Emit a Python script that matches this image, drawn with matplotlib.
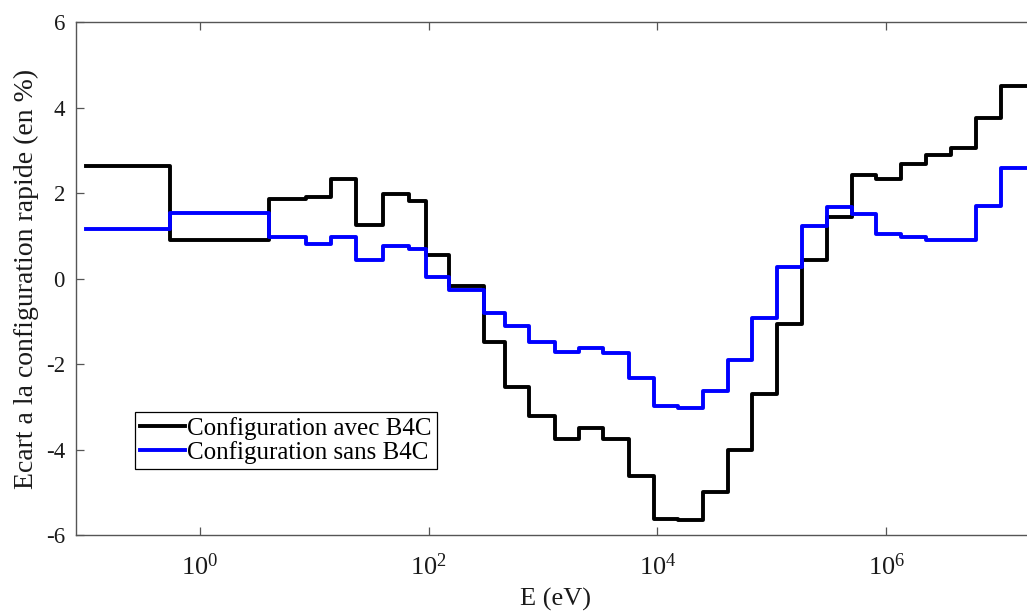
import math

import matplotlib
matplotlib.use("Agg")
import matplotlib.pyplot as plt
from matplotlib.ticker import FixedLocator, FuncFormatter, NullLocator

plt.rcParams["font.family"] = ["Liberation Serif", "DejaVu Serif"]
plt.rcParams["mathtext.fontset"] = "custom"
plt.rcParams["mathtext.rm"] = "Liberation Serif"
plt.rcParams["mathtext.it"] = "Liberation Serif:italic"
plt.rcParams["axes.unicode_minus"] = False

# ── Data: energy group boundaries (eV) and relative deviation (%) ──
edges_ev = [0.1, 0.55, 4.0, 8.5, 14, 23, 40, 67, 95, 150, 307, 463, 760,
            1270, 2070, 3350, 5600, 9300, 15200, 25000, 41600, 67600,
            111000, 185000, 304000, 502000, 820000, 1.34e6, 2.22e6,
            3.67e6, 6.07e6, 1.0e7, 2.0e7]

avec_b4c = [2.63, 0.89, 1.86, 1.90, 2.32, 1.26, 1.98, 1.82, 0.56, -0.17,
            -1.49, -2.54, -3.22, -3.75, -3.49, -3.75, -4.61, -5.62, -5.66,
            -5.00, -4.00, -2.70, -1.07, 0.44, 1.45, 2.43, 2.33, 2.67, 2.90,
            3.06, 3.76, 4.50]

sans_b4c = [1.15, 1.53, 0.97, 0.81, 0.97, 0.44, 0.76, 0.68, 0.03, -0.28,
            -0.80, -1.12, -1.49, -1.72, -1.63, -1.74, -2.33, -2.99, -3.03,
            -2.64, -1.90, -0.93, 0.28, 1.24, 1.68, 1.51, 1.04, 0.98, 0.91,
            0.91, 1.69, 2.59]

labels = ["Configuration avec B4C", "Configuration sans B4C"]
x_ticks = [1, 1e2, 1e4, 1e6]
y_ticks = [-6, -4, -2, 0, 2, 4, 6]

fig = plt.figure(figsize=(10.27, 6.13), dpi=100)
fig.patch.set_facecolor("white")
ax = fig.add_axes([0.074, 0.1272, 0.9338, 0.8369])

ax.step(edges_ev, avec_b4c + [avec_b4c[-1]], where="post",
        color="black", linewidth=2.8, label=labels[0])
ax.step(edges_ev, sans_b4c + [sans_b4c[-1]], where="post",
        color="#0000FF", linewidth=2.8, label=labels[1])

ax.set_xscale("log")
ax.set_xlim(0.0824, 2.0e7)
ax.set_ylim(-6, 6)

ax.xaxis.set_major_locator(FixedLocator(x_ticks))
ax.xaxis.set_minor_locator(NullLocator())
ax.xaxis.set_major_formatter(
    FuncFormatter(lambda v, _: r"$\mathregular{10^{%d}}$" % round(math.log10(v))))
ax.set_yticks(y_ticks)
ax.set_yticklabels([str(t) for t in y_ticks])

ax.tick_params(direction="in", length=6, width=0.9, top=True, right=True,
               colors="#555555", labelcolor="#1a1a1a")
ax.tick_params(axis="x", labelsize=19, pad=13)
ax.tick_params(axis="y", labelsize=16.5, pad=8)
for s in ax.spines.values():
    s.set_color("#555555")
    s.set_linewidth(1.0)

ax.set_xlabel("E (eV)", fontsize=19, color="#1a1a1a", labelpad=6)
ax.set_ylabel("Ecart a la configuration rapide (en %)", fontsize=20,
              color="#1a1a1a", labelpad=5)

leg = ax.legend(loc="upper left", bbox_to_anchor=(0.0615, 0.24),
                borderaxespad=0, fontsize=18, fancybox=False,
                edgecolor="black", framealpha=1.0, handlelength=1.8,
                handletextpad=0.1, borderpad=0.2, labelspacing=0.05)
leg.get_frame().set_linewidth(0.9)

fig.savefig("out.png", dpi=100, facecolor="white")
